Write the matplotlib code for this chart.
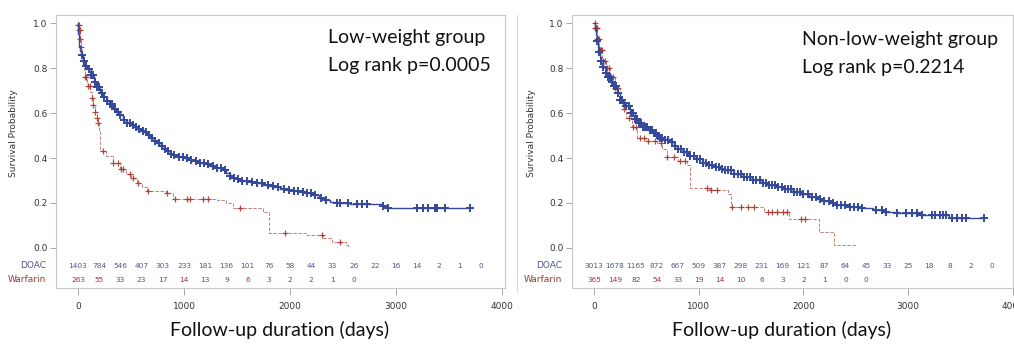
import numpy as np
import matplotlib
matplotlib.use("Agg")
import matplotlib.pyplot as plt
import matplotlib.transforms as mtransforms

# ---- data ----
# left panel: low-weight group
lw_doac_t = [0, 5, 10, 20, 30, 50, 70, 90, 120, 150, 180, 210, 240, 270, 300, 330, 360, 390, 425, 460,
             500, 530, 560, 590, 615, 650, 680, 715, 750, 780, 810, 840, 870, 910, 950, 1000, 1057,
             1100, 1150, 1200, 1250, 1310, 1370, 1400, 1430, 1465, 1510, 1550, 1620, 1690, 1750, 1800,
             1850, 1910, 1970, 2030, 2100, 2160, 2220, 2270, 2315, 2380, 2440, 2570, 2880, 2910, 3700]
lw_doac_s = [1.0, 0.95, 0.90, 0.875, 0.86, 0.83, 0.81, 0.795, 0.77, 0.74, 0.715, 0.69, 0.67, 0.655,
             0.64, 0.62, 0.605, 0.59, 0.57, 0.557, 0.545, 0.537, 0.53, 0.522, 0.515, 0.503, 0.49,
             0.477, 0.465, 0.452, 0.44, 0.43, 0.42, 0.412, 0.405, 0.398, 0.39, 0.386, 0.38, 0.373,
             0.365, 0.356, 0.347, 0.335, 0.322, 0.31, 0.305, 0.30, 0.295, 0.29, 0.282, 0.275, 0.27,
             0.264, 0.258, 0.254, 0.25, 0.243, 0.235, 0.224, 0.213, 0.206, 0.20, 0.197, 0.185, 0.176,
             0.176]
lw_doac_cens = [40, 60, 80, 100, 120, 140, 160, 180, 200, 225, 250, 275, 300, 325, 350, 375, 400, 430,
                460, 490, 520, 550, 580, 610, 640, 670, 700, 730, 760, 790, 820, 850, 880, 910, 950,
                990, 1030, 1070, 1110, 1150, 1190, 1230, 1270, 1310, 1350, 1390, 1430, 1470, 1510, 1550,
                1590, 1640, 1690, 1740, 1790, 1840, 1890, 1940, 1990, 2040, 2080, 2120, 2160, 2200,
                2240, 2290, 2340, 2440, 2470, 2550, 2630, 2680, 2725, 2880, 2920, 3195, 3255, 3300,
                3370, 3385, 3460, 3700]
lw_warf_t = [0, 5, 10, 20, 28, 40, 50, 60, 66, 85, 97, 115, 129, 145, 160, 175, 192, 200, 207, 260,
             330, 400, 450, 500, 555, 600, 650, 835, 900, 1310, 1400, 1465, 1745, 1800, 2150, 2315,
             2400, 2530, 2550]
lw_warf_s = [1.0, 0.99, 0.97, 0.93, 0.895, 0.86, 0.83, 0.79, 0.76, 0.73, 0.72, 0.695, 0.665, 0.635,
             0.606, 0.58, 0.555, 0.52, 0.43, 0.41, 0.38, 0.35, 0.33, 0.31, 0.29, 0.27, 0.255, 0.245,
             0.218, 0.213, 0.20, 0.178, 0.16, 0.068, 0.058, 0.044, 0.028, 0.014, 0.005]
lw_warf_cens = [5, 9, 12, 19, 24, 28, 40, 50, 66, 80, 97, 110, 129, 145, 160, 176, 192, 240, 330, 380,
                410, 425, 490, 520, 566, 660, 840, 915, 1028, 1060, 1180, 1230, 1530, 1950, 2300, 2470]

# right panel: non-low-weight group
nw_doac_t = [0, 10, 20, 30, 40, 50, 60, 70, 90, 110, 130, 155, 180, 215, 250, 275, 300, 345, 390, 430,
             470, 515, 560, 595, 630, 680, 725, 760, 800, 850, 900, 970, 1040, 1095, 1150, 1200, 1250,
             1335, 1420, 1510, 1600, 1670, 1740, 1820, 1900, 1980, 2055, 2130, 2200, 2255, 2310, 2440,
             2550, 2660, 2770, 2885, 3100, 3390, 3720]
nw_doac_s = [1.0, 0.97, 0.945, 0.92, 0.895, 0.87, 0.85, 0.83, 0.805, 0.78, 0.76, 0.74, 0.72, 0.69,
             0.66, 0.645, 0.63, 0.60, 0.575, 0.557, 0.54, 0.525, 0.51, 0.50, 0.49, 0.48, 0.47, 0.455,
             0.44, 0.425, 0.41, 0.395, 0.38, 0.37, 0.36, 0.352, 0.345, 0.33, 0.317, 0.303, 0.29, 0.281,
             0.272, 0.261, 0.25, 0.238, 0.227, 0.218, 0.21, 0.20, 0.19, 0.184, 0.176, 0.169, 0.162,
             0.155, 0.145, 0.133, 0.133]
nw_doac_cens = [30, 50, 70, 90, 110, 130, 150, 170, 190, 210, 230, 250, 270, 290, 310, 330, 350, 370,
                390, 410, 430, 450, 470, 490, 510, 530, 550, 570, 590, 610, 630, 650, 680, 710, 740,
                770, 800, 830, 860, 890, 920, 950, 980, 1010, 1040, 1070, 1100, 1130, 1160, 1190, 1220,
                1250, 1280, 1310, 1340, 1370, 1400, 1430, 1460, 1490, 1520, 1550, 1580, 1610, 1640,
                1670, 1700, 1730, 1760, 1790, 1820, 1850, 1880, 1910, 1940, 1970, 2000, 2040, 2080,
                2120, 2160, 2200, 2240, 2280, 2320, 2360, 2400, 2440, 2480, 2520, 2560, 2695, 2750,
                2790, 2895, 2980, 3040, 3085, 3130, 3230, 3260, 3300, 3330, 3360, 3420, 3470, 3510,
                3550, 3725]
nw_warf_t = [0, 10, 30, 50, 80, 110, 150, 200, 250, 280, 310, 360, 410, 500, 600, 650, 695, 800, 885,
             915, 1105, 1275, 1310, 1620, 1865, 2150, 2295, 2515]
nw_warf_s = [1.0, 0.98, 0.93, 0.88, 0.83, 0.80, 0.76, 0.71, 0.66, 0.62, 0.58, 0.54, 0.49, 0.475, 0.466,
             0.44, 0.405, 0.385, 0.37, 0.267, 0.258, 0.24, 0.182, 0.16, 0.129, 0.072, 0.013, 0.013]
nw_warf_cens = [8, 12, 15, 20, 25, 30, 40, 48, 55, 65, 75, 90, 105, 120, 140, 160, 180, 200, 230, 260,
                290, 330, 370, 400, 440, 480, 520, 580, 640, 695, 760, 820, 865, 1075, 1120, 1170,
                1320, 1400, 1470, 1530, 1660, 1700, 1750, 1800, 1840, 1980, 2010]

# numbers at risk, every 200 days
risk_days = [0, 200, 400, 600, 800, 1000, 1200, 1400, 1600, 1800, 2000, 2200, 2400, 2600, 2800,
             3000, 3200, 3400, 3600, 3800]
lw_doac_risk = [1403, 784, 546, 407, 303, 233, 181, 136, 101, 76, 58, 44, 33, 26, 22, 16, 14, 2, 1, 0]
lw_warf_risk = [263, 55, 33, 23, 17, 14, 13, 9, 6, 3, 2, 2, 1, 0]
nw_doac_risk = [3013, 1678, 1165, 872, 667, 509, 387, 298, 231, 169, 121, 87, 64, 45, 33, 25, 18, 8, 2, 0]
nw_warf_risk = [365, 149, 82, 54, 33, 19, 14, 10, 6, 3, 2, 1, 0, 0]

BLUE = "#34499a"
RED = "#a8362c"
BLUE_TXT = "#4b5a8e"
RED_TXT = "#9a3b30"

W, H = 1014, 346
fig = plt.figure(figsize=(W / 100, H / 100), dpi=100)


def step_at(t, s, x):
    idx = np.searchsorted(np.asarray(t), np.asarray(x), side="right") - 1
    return np.asarray(s)[idx]


def km_panel(ax, d_t, d_s, d_c, w_t, w_s, w_c, d_risk, w_risk, xlim):
    ax.step(w_t, w_s, where="post", color=RED, lw=0.6, ls=(0, (4, 2)), alpha=0.75, zorder=2)
    ax.plot(w_c, step_at(w_t, w_s, w_c), ls="none", marker="+", ms=4.5, mew=0.9, color=RED,
            alpha=0.9, zorder=3)
    ax.step(d_t, d_s, where="post", color=BLUE, lw=1.0, zorder=4)
    ax.plot(d_c, step_at(d_t, d_s, d_c), ls="none", marker="+", ms=5.2, mew=1.4, color=BLUE, zorder=5)

    ax.set_xlim(*xlim)
    ax.set_ylim(-0.178, 1.036)
    ax.set_yticks([0.0, 0.2, 0.4, 0.6, 0.8, 1.0])
    ax.set_yticklabels(["0.0", "0.2", "0.4", "0.6", "0.8", "1.0"])
    ax.set_xticks([0, 1000, 2000, 3000, 4000])
    ax.tick_params(axis="y", length=4, width=0.6, color="#999999", labelsize=6.5,
                   labelcolor="#333333", pad=2)
    ax.tick_params(axis="x", length=5, width=0.6, color="#999999", labelsize=6.5,
                   labelcolor="#333333", pad=5)
    for sp in ax.spines.values():
        sp.set_color("#c8c8c8")
        sp.set_linewidth(0.8)

    for x, n in zip(risk_days, d_risk):
        ax.text(x, -0.08, str(n), ha="center", va="center", fontsize=5.3, color=BLUE_TXT)
    for x, n in zip(risk_days, w_risk):
        ax.text(x, -0.142, str(n), ha="center", va="center", fontsize=5.3, color=RED_TXT)
    tr = mtransforms.blended_transform_factory(ax.transAxes, ax.transData)
    ax.text(-0.022, -0.08, "DOAC", transform=tr, ha="right", va="center", fontsize=6.5, color=BLUE_TXT)
    ax.text(-0.022, -0.142, "Warfarin", transform=tr, ha="right", va="center", fontsize=6.5,
            color=RED_TXT)


top = 1 - 15 / H
bot = 1 - 288 / H
ax1 = fig.add_axes([56 / W, bot, (505 - 56) / W, top - bot])
ax2 = fig.add_axes([572 / W, bot, (1013 - 572) / W, top - bot])

km_panel(ax1, lw_doac_t, lw_doac_s, lw_doac_cens, lw_warf_t, lw_warf_s, lw_warf_cens,
         lw_doac_risk, lw_warf_risk, (-207, 4028))
km_panel(ax2, nw_doac_t, nw_doac_s, nw_doac_cens, nw_warf_t, nw_warf_s, nw_warf_cens,
         nw_doac_risk, nw_warf_risk, (-210, 3990))

big = dict(fontsize=14, family=["Lato", "DejaVu Sans"], color="#111111")
fig.text(328 / W, 1 - 38 / H, "Low-weight group", ha="left", va="center", **big)
fig.text(328 / W, 1 - 65 / H, "Log rank p=0.0005", ha="left", va="center", **big)
fig.text(802 / W, 1 - 40 / H, "Non-low-weight group", ha="left", va="center", **big)
fig.text(802 / W, 1 - 68 / H, "Log rank p=0.2214", ha="left", va="center", **big)

fig.text(280 / W, 1 - 330 / H, "Follow-up duration (days)", ha="center", va="center", **big)
fig.text(782 / W, 1 - 330 / H, "Follow-up duration (days)", ha="center", va="center", **big)

fig.text(14 / W, 1 - 133 / H, "Survival Probability", rotation=90, ha="center", va="center",
         fontsize=6.5, color="#333333")
fig.text(532 / W, 1 - 133 / H, "Survival Probability", rotation=90, ha="center", va="center",
         fontsize=6.5, color="#333333")

# faint edge of the second screenshot
fig.add_artist(plt.Line2D([517 / W, 517 / W], [1 - 15 / H, 1 - 292 / H], color="#d8d8d8", lw=0.8))

fig.savefig("out.png", dpi=100)
